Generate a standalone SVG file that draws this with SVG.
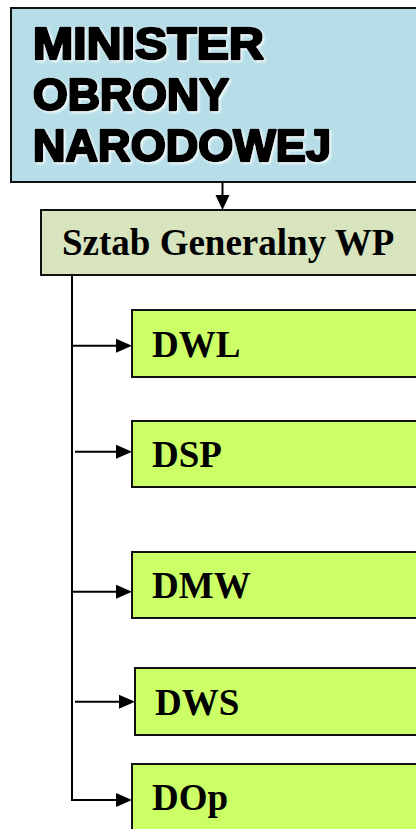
<svg xmlns="http://www.w3.org/2000/svg" width="416" height="829" viewBox="0 0 416 829">
<style>
.box{stroke:#111;stroke-width:2}
.min{fill:#B7DEE8}
.sg{fill:#D7E4BD}
.d{fill:#CCFF66}
.t{font-family:"Liberation Serif","Times New Roman",serif;font-weight:bold;font-size:37px;fill:#000}
.h{font-family:"Liberation Sans",Arial,sans-serif;font-weight:bold;font-size:44px;fill:#000;stroke:#000;stroke-width:2.6;stroke-linejoin:round;filter:url(#glow)}
.c{stroke:#000;stroke-width:2;fill:none}
.ah{fill:#000}
</style>
<defs>
<filter id="glow" x="-10%" y="-30%" width="120%" height="160%">
<feDropShadow dx="1.5" dy="1.5" stdDeviation="1" flood-color="#ffffff" flood-opacity="0.95"/>
</filter>
</defs>
<rect width="416" height="829" fill="#fff"/>
<g id="minister">
<rect class="box min" x="11" y="8" width="420" height="174"/>
<text class="h" x="33" y="59" textLength="231" lengthAdjust="spacingAndGlyphs">MINISTER</text>
<text class="h" x="33" y="110" textLength="196" lengthAdjust="spacingAndGlyphs">OBRONY</text>
<text class="h" x="33" y="161" textLength="298" lengthAdjust="spacingAndGlyphs">NARODOWEJ</text>
</g>
<g id="sztab">
<rect class="box sg" x="41" y="210" width="390" height="65"/>
<text class="t" x="62" y="255">Sztab Generalny WP</text>
</g>
<g id="dwl">
<rect class="box d" x="132" y="310" width="300" height="67"/>
<text class="t" x="152" y="357">DWL</text>
</g>
<g id="dsp">
<rect class="box d" x="132" y="421" width="300" height="66"/>
<text class="t" x="152" y="467">DSP</text>
</g>
<g id="dmw">
<rect class="box d" x="132" y="552" width="300" height="66"/>
<text class="t" x="152" y="598">DMW</text>
</g>
<g id="dws">
<rect class="box d" x="135" y="668" width="300" height="67"/>
<text class="t" x="155" y="715">DWS</text>
</g>
<g id="dop">
<rect class="box d" x="132" y="764" width="300" height="80"/>
<text class="t" x="152" y="810">DOp</text>
</g>
<g id="connectors">
<path class="c" d="M222.5 182 V196"/>
<polygon class="ah" points="215.5,195 229.5,195 222.5,210"/>
<path class="c" d="M72 275 V800 H117"/>
<polygon class="ah" points="116,793 132,800 116,807"/>
<path class="c" d="M72 345.7 H117"/>
<polygon class="ah" points="116,338.7 132,345.7 116,352.7"/>
<path class="c" d="M75 451.7 H117"/>
<polygon class="ah" points="116,444.7 132,451.7 116,458.7"/>
<path class="c" d="M72 591.7 H117"/>
<polygon class="ah" points="116,584.7 132,591.7 116,598.7"/>
<path class="c" d="M75 701.7 H120"/>
<polygon class="ah" points="119,694.7 135,701.7 119,708.7"/>
</g>
</svg>
